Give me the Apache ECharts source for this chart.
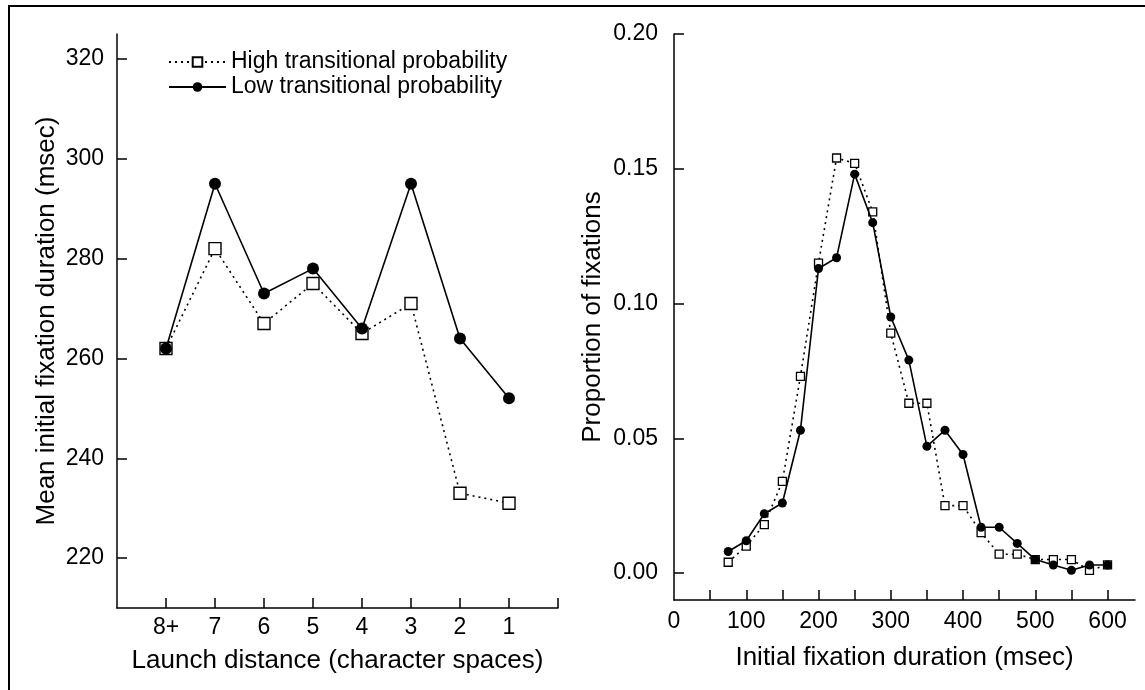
<!DOCTYPE html>
<html>
<head>
<meta charset="utf-8">
<script src="https://cdn.jsdelivr.net/npm/echarts@6/dist/echarts.min.js"></script>
<style>
html,body{margin:0;padding:0;background:#fff;}
#chart{width:1145px;height:690px;}
</style>
</head>
<body>
<div id="chart"></div>
<script>
// ---- Left panel data ----
const launchCategories = ['8+', '7', '6', '5', '4', '3', '2', '1'];
const leftHigh = [262, 282, 267, 275, 265, 271, 233, 231];
const leftLow  = [262, 295, 273, 278, 266, 295, 264, 252];
const leftYTicks = [220, 240, 260, 280, 300, 320];

// ---- Right panel data ----
const durations = [75, 100, 125, 150, 175, 200, 225, 250, 275, 300, 325, 350, 375, 400, 425, 450, 475, 500, 525, 550, 575, 600];
const rightHigh = [0.004, 0.010, 0.018, 0.034, 0.073, 0.115, 0.154, 0.152, 0.134, 0.089, 0.063, 0.063, 0.025, 0.025, 0.015, 0.007, 0.007, 0.005, 0.005, 0.005, 0.001, 0.003];
const rightLow  = [0.008, 0.012, 0.022, 0.026, 0.053, 0.113, 0.117, 0.148, 0.130, 0.095, 0.079, 0.047, 0.053, 0.044, 0.017, 0.017, 0.011, 0.005, 0.003, 0.001, 0.003, 0.003];
const rightYTicks = [0, 0.05, 0.10, 0.15, 0.20];
const rightXLabels = [0, 100, 200, 300, 400, 500, 600];
const rightXTicks = [50, 100, 150, 200, 250, 300, 350, 400, 450, 500, 550, 600];

const seriesNames = ['High transitional probability', 'Low transitional probability'];

const FONT = 'Liberation Sans, Arial, sans-serif';
const mkAxisLine = () => ({show: true, onZero: false, lineStyle: {color: '#000', width: 1.5}});
const tickStyle = {color: '#000', width: 1.5};

const chart = echarts.init(document.getElementById('chart'), null, {renderer: 'canvas'});

const option = {
  animation: false,
  backgroundColor: '#fff',
  textStyle: {fontFamily: FONT, color: '#000'},
  graphic: [{
    type: 'polyline',
    shape: {points: [[9, 690], [9, 6], [1145, 6]]},
    style: {stroke: '#000', lineWidth: 2, fill: null}
  }],
  legend: {
    orient: 'vertical',
    left: 163,
    top: 45,
    itemWidth: 57,
    itemHeight: 12,
    itemGap: 1,
    data: seriesNames,
    textStyle: {fontFamily: FONT, fontSize: 23, color: '#000', lineHeight: 24}
  },
  grid: [
    {left: 117, right: 587, top: 34, bottom: 82, outerBoundsMode: 'none'},
    {left: 674, right: 10, top: 34, bottom: 90, outerBoundsMode: 'none'}
  ],
  xAxis: [
    {
      gridIndex: 0, type: 'value', min: -1, max: 8,
      axisLine: mkAxisLine(),
      splitLine: {show: false},
      axisTick: {show: true, inside: true, length: 10, lineStyle: tickStyle,
                 customValues: [0, 1, 2, 3, 4, 5, 6, 7, 8]},
      axisLabel: {customValues: [0, 1, 2, 3, 4, 5, 6, 7], margin: 8,
                  fontSize: 23, color: '#000', fontFamily: FONT,
                  formatter: v => launchCategories[Math.round(v)] || ''},
      name: 'Launch distance (character spaces)',
      nameLocation: 'middle', nameGap: 40,
      nameTextStyle: {fontSize: 26, color: '#000', fontFamily: FONT}
    },
    {
      gridIndex: 1, type: 'value', min: 0, max: 638,
      axisLine: mkAxisLine(),
      splitLine: {show: false},
      axisTick: {show: true, inside: true, length: 10, lineStyle: tickStyle,
                 customValues: rightXTicks},
      axisLabel: {customValues: rightXLabels, margin: 10,
                  fontSize: 23, color: '#000', fontFamily: FONT,
                  formatter: v => String(v)},
      name: 'Initial fixation duration (msec)',
      nameLocation: 'middle', nameGap: 45,
      nameTextStyle: {fontSize: 26, color: '#000', fontFamily: FONT}
    }
  ],
  yAxis: [
    {
      gridIndex: 0, type: 'value', min: 210, max: 325,
      axisLine: mkAxisLine(),
      splitLine: {show: false},
      axisTick: {show: true, inside: true, length: 10, lineStyle: tickStyle,
                 customValues: leftYTicks},
      axisLabel: {customValues: leftYTicks, margin: 13,
                  fontSize: 23, color: '#000', fontFamily: FONT},
      name: 'Mean initial fixation duration (msec)',
      nameLocation: 'middle', nameGap: 57, nameRotate: 90,
      nameTextStyle: {fontSize: 26, color: '#000', fontFamily: FONT}
    },
    {
      gridIndex: 1, type: 'value', min: -0.01, max: 0.20,
      axisLine: mkAxisLine(),
      splitLine: {show: false},
      axisTick: {show: true, inside: true, length: 10, lineStyle: tickStyle,
                 customValues: rightYTicks},
      axisLabel: {customValues: rightYTicks, margin: 16,
                  fontSize: 23, color: '#000', fontFamily: FONT,
                  formatter: v => v.toFixed(2)},
      name: 'Proportion of fixations',
      nameLocation: 'middle', nameGap: 68, nameRotate: 90,
      nameTextStyle: {fontSize: 26, color: '#000', fontFamily: FONT}
    }
  ],
  series: [
    {
      name: seriesNames[0], type: 'line', xAxisIndex: 0, yAxisIndex: 0,
      data: leftHigh.map((v, i) => [i, v]),
      symbol: 'rect', symbolSize: 12,
      itemStyle: {color: '#fff', borderColor: '#000', borderWidth: 1.4},
      lineStyle: {color: '#000', width: 1.6, type: [2, 4]},
      z: 2
    },
    {
      name: seriesNames[1], type: 'line', xAxisIndex: 0, yAxisIndex: 0,
      data: leftLow.map((v, i) => [i, v]),
      symbol: 'circle', symbolSize: 12,
      itemStyle: {color: '#000', borderColor: '#000', borderWidth: 0},
      lineStyle: {color: '#000', width: 1.6, type: 'solid'},
      z: 3
    },
    {
      name: seriesNames[0], type: 'line', xAxisIndex: 1, yAxisIndex: 1,
      data: durations.map((d, i) => [d, rightHigh[i]]),
      symbol: 'rect', symbolSize: 8,
      itemStyle: {color: '#fff', borderColor: '#000', borderWidth: 1.3},
      lineStyle: {color: '#000', width: 1.6, type: [2, 4]},
      z: 2
    },
    {
      name: seriesNames[1], type: 'line', xAxisIndex: 1, yAxisIndex: 1,
      data: durations.map((d, i) => [d, rightLow[i]]),
      symbol: 'circle', symbolSize: 9,
      itemStyle: {color: '#000', borderColor: '#000', borderWidth: 0},
      lineStyle: {color: '#000', width: 1.6, type: 'solid'},
      z: 3
    }
  ]
};
chart.setOption(option);
</script>
</body>
</html>
